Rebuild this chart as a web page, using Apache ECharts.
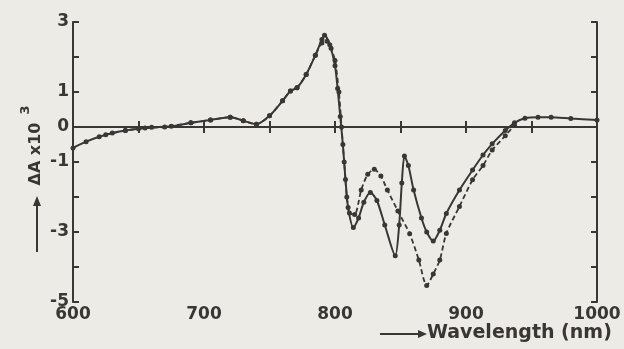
<!DOCTYPE html>
<html><head><meta charset="utf-8">
<script src="https://cdn.jsdelivr.net/npm/echarts@6/dist/echarts.min.js"></script>
<style>html,body{margin:0;padding:0;background:#ecebe5}#c{width:624px;height:349px}</style>
</head><body><div id="c"></div>
<script>
// Wavelength (nm) and ΔA x10^3 values
const solidX = [600,610,620,630,640,650,660,675,690,705,720,730,740,750,760,766,771,778,785,790,792,796,800,802,804,806,808,810,814,818,822,827,832,838,846,849,851,853,856,860,866,870,875,880,885,895,905,913,920,930,937,945,955,965,980,1000];
const solidY = [-0.6,-0.42,-0.28,-0.17,-0.1,-0.05,-0.01,0.02,0.12,0.2,0.28,0.18,0.08,0.32,0.75,1.03,1.12,1.5,2.05,2.5,2.62,2.35,1.75,1.1,0.3,-0.5,-1.5,-2.3,-2.87,-2.6,-2.15,-1.87,-2.1,-2.8,-3.68,-2.8,-1.6,-0.83,-1.1,-1.8,-2.6,-3.0,-3.26,-2.95,-2.47,-1.8,-1.23,-0.8,-0.48,-0.1,0.12,0.25,0.28,0.28,0.24,0.2];
const dashX = [625,640,655,670,690,705,720,730,740,750,760,766,771,778,785,790,794,797,800,803,805,807,809,811,815,820,825,830,835,840,848,857,864,870,875,880,885,895,905,913,920,930,937];
const dashY = [-0.22,-0.1,-0.03,0.0,0.12,0.2,0.28,0.18,0.08,0.32,0.75,1.03,1.12,1.5,2.05,2.4,2.45,2.25,1.9,1.0,0.0,-1.0,-2.0,-2.46,-2.5,-1.8,-1.35,-1.21,-1.4,-1.8,-2.4,-3.05,-3.8,-4.53,-4.2,-3.8,-3.04,-2.27,-1.51,-1.1,-0.66,-0.25,0.05];
const zeroX = [600,1000];
const zeroY = [0,0];
const xTickLabels = [600,700,800,900,1000];
const yTickLabels = [3,1,0,-1,-3,-5];

const ink = '#3a3636';
const pairs = (xs, ys) => xs.map((x, i) => [x, ys[i]]);
const chart = echarts.init(document.getElementById('c'));
const axisCommon = {
  min: 600, max: 1000, interval: 50,
  axisLine: {lineStyle: {color: ink, width: 2}},
  axisTick: {inside: true, length: 6, lineStyle: {color: ink, width: 2}},
  splitLine: {show: false}
};
const yCommon = {
  min: -5, max: 3, interval: 1,
  axisLine: {show: true, lineStyle: {color: ink, width: 2}},
  axisTick: {show: true, inside: true, length: 6, lineStyle: {color: ink, width: 2}},
  splitLine: {show: false}
};
chart.setOption({
  backgroundColor: '#ecebe5',
  animation: false,
  grid: {left: 73, right: 27, top: 22, bottom: 47},
  xAxis: [
    Object.assign({type: 'value', position: 'bottom',
      axisLabel: {color: ink, fontSize: 17, fontWeight: 'bold', fontFamily: 'DejaVu Sans', margin: 4,
        formatter: v => xTickLabels.includes(v) ? String(v) : ''}}, axisCommon),
    Object.assign({type: 'value', position: 'top', axisLabel: {show: false}}, axisCommon)
  ],
  yAxis: [
    Object.assign({type: 'value', position: 'left',
      axisLabel: {color: ink, fontSize: 17, fontWeight: 'bold', fontFamily: 'DejaVu Sans', margin: 4,
        formatter: v => yTickLabels.includes(v) ? (v < 0 ? '-' + Math.abs(v) : String(v)) : ''}}, yCommon),
    Object.assign({type: 'value', position: 'right', axisLabel: {show: false}}, yCommon)
  ],
  series: [
    {type: 'line', data: pairs(zeroX, zeroY), symbol: 'none', lineStyle: {color: ink, width: 2}, silent: true},
    {type: 'line', data: pairs(dashX, dashY), smooth: 0.25, symbol: 'circle', symbolSize: 5,
      itemStyle: {color: ink}, lineStyle: {color: ink, width: 1.8, type: [5, 3]}},
    {type: 'line', data: pairs(solidX, solidY), smooth: 0.25, symbol: 'circle', symbolSize: 5,
      itemStyle: {color: ink}, lineStyle: {color: ink, width: 2}}
  ],
  graphic: [
    {type: 'text', x: 36, y: 154, rotation: Math.PI / 2,
      style: {text: 'ΔA x10', fill: ink, font: 'bold 16px "DejaVu Sans"', align: 'center', verticalAlign: 'middle'}},
    {type: 'text', x: 26, y: 110, rotation: Math.PI / 2,
      style: {text: '3', fill: ink, font: 'bold 13px "DejaVu Sans"', align: 'center', verticalAlign: 'middle'}},
    {type: 'line', shape: {x1: 37, y1: 252, x2: 37, y2: 202}, style: {stroke: ink, lineWidth: 2}},
    {type: 'polygon', shape: {points: [[33, 206], [41, 206], [37, 196]]}, style: {fill: ink}},
    {type: 'line', shape: {x1: 380, y1: 334, x2: 422, y2: 334}, style: {stroke: ink, lineWidth: 2}},
    {type: 'polygon', shape: {points: [[418, 330], [418, 338], [427, 334]]}, style: {fill: ink}},
    {type: 'text', x: 427, y: 333,
      style: {text: 'Wavelength (nm)', fill: ink, font: 'bold 19px "DejaVu Sans"', align: 'left', verticalAlign: 'middle'}}
  ]
});
</script></body></html>
